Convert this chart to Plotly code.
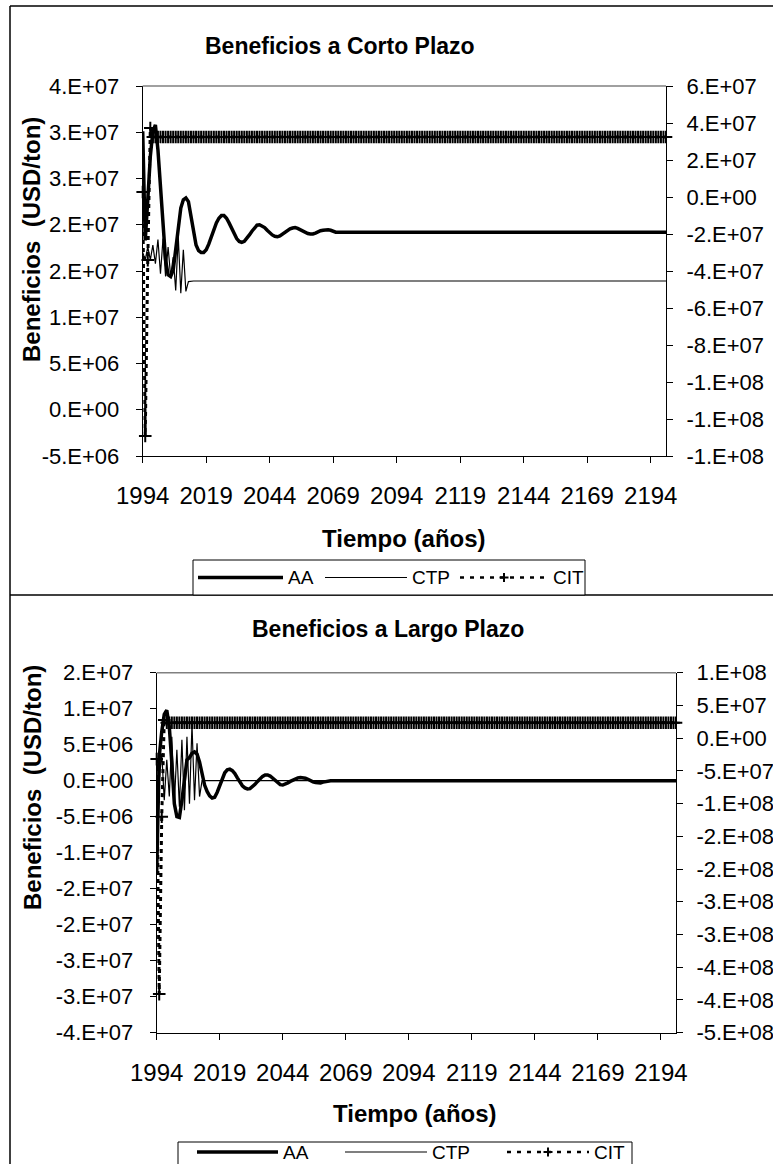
import plotly.graph_objects as go

W, H = 773, 1164
FONT = "Liberation Sans, Arial, sans-serif"

# ---------------- data ----------------
years = list(range(1994, 2201))
n_years = len(years)

x_tickvals = [1994, 2019, 2044, 2069, 2094, 2119, 2144, 2169, 2194]
x_ticktext = ["1994", "2019", "2044", "2069", "2094", "2119", "2144", "2169", "2194"]

# Beneficios a Corto Plazo (AA, CTP on left axis; CIT on right axis)
aa_corto_early = [
    30.1e6, 18.3e6, 22.7e6, 27.4e6, 30.1e6, 30.8e6, 28.1e6, 23.8e6, 20.0e6, 16.2e6,
    14.6e6, 14.4e6, 15.1e6, 17.3e6, 20.2e6, 21.8e6, 22.7e6, 22.9e6, 22.5e6, 20.9e6,
    19.1e6, 17.8e6, 17.2e6, 17.0e6, 17.0e6, 17.3e6, 17.9e6, 18.7e6, 19.5e6, 20.2e6,
    20.7e6, 21.0e6, 21.0e6, 20.7e6, 20.2e6, 19.6e6, 19.0e6, 18.5e6, 18.2e6, 18.1e6,
    18.2e6, 18.5e6, 18.9e6, 19.3e6, 19.7e6, 19.95e6, 20.0e6, 19.9e6, 19.7e6, 19.4e6,
    19.1e6, 18.9e6, 18.75e6, 18.7e6, 18.8e6, 19.0e6, 19.2e6, 19.4e6, 19.55e6, 19.65e6,
    19.7e6, 19.6e6, 19.45e6, 19.3e6, 19.15e6, 19.05e6, 19.0e6, 19.0e6, 19.1e6, 19.25e6,
    19.35e6, 19.4e6, 19.45e6, 19.45e6, 19.4e6, 19.3e6, 19.2e6,
]
aa_corto_steady = 19.2e6

ctp_corto_early = [
    17.0e6, 16.2e6, 17.6e6, 16.2e6, 17.8e6, 15.8e6, 18.4e6, 14.7e6, 18.5e6, 14.4e6,
    17.6e6, 14.4e6, 16.5e6, 12.9e6, 18.7e6, 12.6e6, 17.3e6, 12.8e6, 13.85e6,
]
ctp_corto_steady = 13.92e6

cit_corto_early = [2.7e6, -129.2e6, -34.1e6, 37.3e6]
cit_corto_steady = 32.4e6

# Beneficios a Largo Plazo
aa_largo_early = [
    -12.8e6, 3.3e6, 6.8e6, 9.2e6, 9.8e6, 7.5e6, 2.4e6, -3.2e6, -5.0e6, -5.1e6,
    -2.7e6, 0.6e6, 2.9e6, 3.2e6, 3.8e6, 4.0e6, 3.7e6, 2.6e6, 0.9e6, -0.6e6,
    -1.5e6, -2.1e6, -2.4e6, -2.3e6, -1.6e6, -0.6e6, 0.4e6, 1.1e6, 1.5e6, 1.6e6,
    1.4e6, 1.0e6, 0.4e6, -0.2e6, -0.7e6, -1.0e6, -1.15e6, -1.1e6, -0.85e6, -0.5e6,
    -0.1e6, 0.3e6, 0.6e6, 0.8e6, 0.8e6, 0.65e6, 0.35e6, 0.0, -0.3e6, -0.55e6,
    -0.6e6, -0.5e6, -0.3e6, -0.1e6, 0.1e6, 0.3e6, 0.4e6, 0.45e6, 0.45e6, 0.35e6,
    0.2e6, 0.0, -0.15e6, -0.25e6, -0.3e6, -0.3e6, -0.2e6, -0.1e6, 0.0,
]
aa_largo_steady = 0.0

ctp_largo_early = [
    2.9e6, 0.1e6, 3.8e6, -2.7e6, 2.9e6, -2.2e6, 6.1e6, -3.2e6, 4.3e6, -3.6e6,
    5.7e6, -4.1e6, 6.1e6, -3.2e6, 7.8e6, -2.7e6, 5.2e6, -2.2e6, 0.0,
]
ctp_largo_steady = 0.0

cit_largo_early = [-32.0e6, -391.0e6, -120.0e6, 27.7e6]
cit_largo_steady = 23.6e6

# axis ticks
corto_left_vals = [-5e6, 0, 5e6, 10e6, 15e6, 20e6, 25e6, 30e6, 35e6]
corto_left_text = ["-5.E+06", "0.E+00", "5.E+06", "1.E+07", "2.E+07", "2.E+07",
                   "3.E+07", "3.E+07", "4.E+07"]
corto_right_vals = [-140e6, -120e6, -100e6, -80e6, -60e6, -40e6, -20e6, 0, 20e6, 40e6, 60e6]
corto_right_text = ["-1.E+08", "-1.E+08", "-1.E+08", "-8.E+07", "-6.E+07", "-4.E+07",
                    "-2.E+07", "0.E+00", "2.E+07", "4.E+07", "6.E+07"]
largo_left_vals = [-35e6, -30e6, -25e6, -20e6, -15e6, -10e6, -5e6, 0, 5e6, 10e6, 15e6]
largo_left_text = ["-4.E+07", "-3.E+07", "-3.E+07", "-2.E+07", "-2.E+07", "-1.E+07",
                   "-5.E+06", "0.E+00", "5.E+06", "1.E+07", "2.E+07"]
largo_right_vals = [-450e6, -400e6, -350e6, -300e6, -250e6, -200e6, -150e6, -100e6,
                    -50e6, 0, 50e6, 100e6]
largo_right_text = ["-5.E+08", "-4.E+08", "-4.E+08", "-3.E+08", "-3.E+08", "-2.E+08",
                    "-2.E+08", "-1.E+08", "-5.E+07", "0.E+00", "5.E+07", "1.E+08"]


def full(early, steady):
    return early + [steady] * (n_years - len(early))


# ---------------- helpers (layout positions in pixels) ----------------
def px(x):
    return x / W


def py(y):
    return 1 - y / H


fig = go.Figure()

aa_line = dict(color="black", width=3.5)
ctp_line = dict(color="black", width=1.2)
cit_line = dict(color="black", width=3, dash="4px,4px")
cit_marker = dict(symbol="cross-thin", size=9, color="black",
                  line=dict(color="black", width=2))

# top chart
fig.add_trace(go.Scatter(x=years, y=full(aa_corto_early, aa_corto_steady), name="AA",
                         mode="lines", line=aa_line, xaxis="x", yaxis="y"))
fig.add_trace(go.Scatter(x=years, y=full(ctp_corto_early, ctp_corto_steady), name="CTP",
                         mode="lines", line=ctp_line, xaxis="x", yaxis="y"))
fig.add_trace(go.Scatter(x=years, y=full(cit_corto_early, cit_corto_steady), name="CIT",
                         mode="lines+markers", line=cit_line, marker=cit_marker,
                         cliponaxis=False, xaxis="x", yaxis="y2"))
# bottom chart
fig.add_trace(go.Scatter(x=years, y=full(aa_largo_early, aa_largo_steady), name="AA",
                         mode="lines", line=aa_line, xaxis="x2", yaxis="y3"))
fig.add_trace(go.Scatter(x=years, y=full(ctp_largo_early, ctp_largo_steady), name="CTP",
                         mode="lines", line=ctp_line, xaxis="x2", yaxis="y3"))
fig.add_trace(go.Scatter(x=years, y=full(cit_largo_early, cit_largo_steady), name="CIT",
                         mode="lines+markers", line=cit_line, marker=cit_marker,
                         cliponaxis=False, xaxis="x2", yaxis="y4"))

tick_font = dict(family=FONT, size=22, color="black")
xtick_font = dict(family=FONT, size=24, color="black")

common_axis = dict(showgrid=False, zeroline=False, showline=True, linecolor="black",
                   linewidth=1, tickcolor="black", tickwidth=1, ticklen=6,
                   tickmode="array", automargin=False)


def xaxis(domain, anchor):
    return dict(common_axis, domain=domain, anchor=anchor, range=[1994, 2200],
                tickvals=x_tickvals, ticktext=x_ticktext, ticks="outside",
                tickfont=xtick_font, ticklabelstandoff=12)


def yleft(domain, anchor, rng, vals, text):
    return dict(common_axis, domain=domain, anchor=anchor, range=rng, tickvals=vals,
                ticktext=text, ticks="outside", tickfont=tick_font,
                ticklabelstandoff=12, side="left")


def yright(over, anchor, rng, vals, text, inside=False):
    d = dict(common_axis, overlaying=over, anchor=anchor, range=rng, tickvals=vals,
             side="right", tickfont=tick_font)
    if inside:
        d.update(ticks="inside", showticklabels=False, showline=False)
    else:
        d.update(ticks="outside", ticklabelstandoff=9, ticktext=text)
    return d


top_x = [px(142.7), px(666)]
top_y = [py(456), py(86)]
bot_x = [px(156.7), px(676)]
bot_y = [py(1032.7), py(672.7)]

fig.update_layout(
    template="none",
    width=W, height=H,
    margin=dict(l=0, r=0, t=0, b=0, pad=0, autoexpand=False),
    paper_bgcolor="white", plot_bgcolor="white",
    showlegend=False,
    font=dict(family=FONT, color="black"),
    xaxis=xaxis(top_x, "y"),
    yaxis=yleft(top_y, "x", [-5e6, 35e6], corto_left_vals, corto_left_text),
    yaxis2=yright("y", "x", [-140e6, 60e6], corto_right_vals, corto_right_text),
    yaxis5=yright("y", "x", [-140e6, 60e6], corto_right_vals, corto_right_text, True),
    xaxis2=xaxis(bot_x, "y3"),
    yaxis3=yleft(bot_y, "x2", [-35e6, 15e6], largo_left_vals, largo_left_text),
    yaxis4=yright("y3", "x2", [-450e6, 100e6], largo_right_vals, largo_right_text),
    yaxis6=yright("y3", "x2", [-450e6, 100e6], largo_right_vals, largo_right_text, True),
)

shapes = []
# chart frames
shapes.append(dict(type="line", xref="paper", yref="paper", x0=px(10), x1=1,
                   y0=py(6), y1=py(6), line=dict(color="black", width=1.5)))
shapes.append(dict(type="line", xref="paper", yref="paper", x0=px(10), x1=px(10),
                   y0=py(6), y1=0, line=dict(color="black", width=1.5)))
shapes.append(dict(type="line", xref="paper", yref="paper", x0=px(10), x1=1,
                   y0=py(595), y1=py(595), line=dict(color="black", width=1.5)))
# plot-area top borders (gray)
shapes.append(dict(type="line", xref="paper", yref="paper", x0=top_x[0], x1=top_x[1],
                   y0=top_y[1], y1=top_y[1], line=dict(color="#808080", width=1.5)))
shapes.append(dict(type="line", xref="paper", yref="paper", x0=bot_x[0], x1=bot_x[1],
                   y0=bot_y[1], y1=bot_y[1], line=dict(color="#808080", width=1.5)))

annotations = []


def text(x, y, s, size, bold=False, angle=0, xanchor="center"):
    annotations.append(dict(xref="paper", yref="paper", x=px(x), y=py(y),
                            text=f"<b>{s}</b>" if bold else s, showarrow=False,
                            textangle=angle, xanchor=xanchor, yanchor="middle",
                            font=dict(family=FONT, size=size, color="black")))


# titles
text(340, 46, "Beneficios a Corto Plazo", 23, bold=True)
text(388, 629, "Beneficios a Largo Plazo", 23, bold=True)
text(32, 240, "Beneficios  (USD/ton)", 24, bold=True, angle=-90)
text(32, 788, "Beneficios  (USD/ton)", 24, bold=True, angle=-90)
text(404, 538, "Tiempo (años)", 24, bold=True)
text(415, 1113, "Tiempo (años)", 24, bold=True)


def legend(box, yc, aa, ctp, cit, plus_x):
    shapes.append(dict(type="rect", xref="paper", yref="paper", x0=px(box[0]),
                       x1=px(box[1]), y0=py(box[2]), y1=py(box[3]),
                       line=dict(color="black", width=1), fillcolor="white"))
    shapes.append(dict(type="line", xref="paper", yref="paper", x0=px(aa[0]),
                       x1=px(aa[1]), y0=py(yc), y1=py(yc),
                       line=dict(color="black", width=3.5)))
    shapes.append(dict(type="line", xref="paper", yref="paper", x0=px(ctp[0]),
                       x1=px(ctp[1]), y0=py(yc), y1=py(yc),
                       line=dict(color="black", width=1.2)))
    shapes.append(dict(type="line", xref="paper", yref="paper", x0=px(cit[0]),
                       x1=px(cit[1]), y0=py(yc), y1=py(yc),
                       line=dict(color="black", width=2.5, dash="4px,6px")))
    r = 4.5
    shapes.append(dict(type="path", xref="paper", yref="paper",
                       path=(f"M{px(plus_x)},{py(yc - r)} L{px(plus_x)},{py(yc + r)} "
                             f"M{px(plus_x - r)},{py(yc)} L{px(plus_x + r)},{py(yc)}"),
                       line=dict(color="black", width=2)))
    text(aa[1] + 3, yc, "AA", 19, xanchor="left")
    text(ctp[1] + 3, yc, "CTP", 19, xanchor="left")
    text(cit[1] + 3, yc, "CIT", 19, xanchor="left")


legend((193, 585, 560, 595), 577.5, (198, 283), (325, 407), (460, 548), 504)
legend((178, 632, 1142, 1180), 1152, (197, 278), (345, 427), (507, 589), 548)

fig.update_layout(shapes=shapes, annotations=annotations)

fig.write_html("out.html", config={"displayModeBar": False},
               post_script="document.body.style.margin='0';document.body.style.overflow='hidden';")
